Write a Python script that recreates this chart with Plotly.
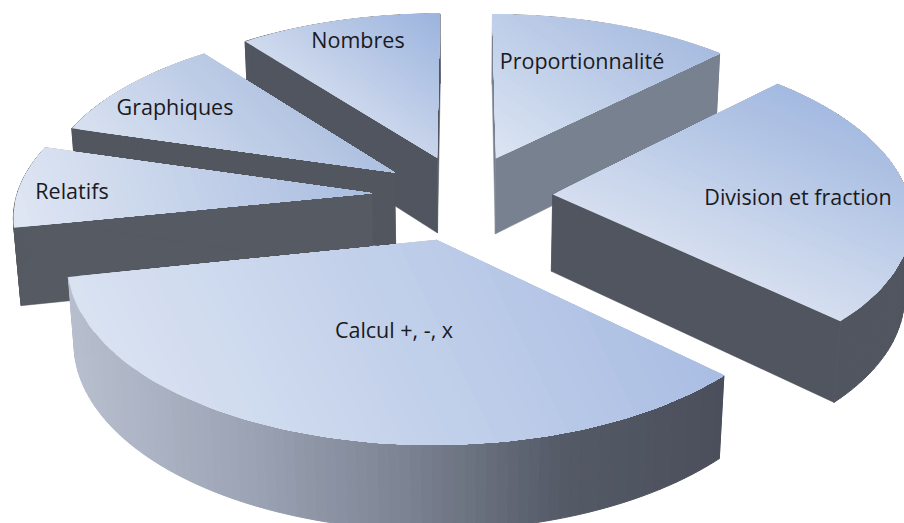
import math
import plotly.graph_objects as go

# --- chart data ---
labels = ["Proportionnalité", "Division et fraction", "Calcul +, -, x", "Relatifs", "Graphiques", "Nombres"]
values = [12.5, 24.6, 34.7, 7.7, 10.0, 10.5]
explode = [0.24, 0.25, 0.27, 0.26, 0.24, 0.24]

# --- styles ---
top_light = ["#dbe4f2", "#d4deef", "#d9e2f1", "#dfe6f3", "#d8e1f0", "#cfdaed"]
top_dark = ["#a6bbe0", "#a3b9e0", "#a9bde3", "#a9bde0", "#adc0e0", "#9bb3de"]
grad_dir = [(0.55, -0.83), (0.4, -0.92), (0.9, -0.44), (0.95, -0.3), (0.7, -0.7), (0.6, -0.8)]
side_col = ["#78818f", "#50555f", "#4a4f5b", "#565a63", "#52565f", "#50555f"]
label_x = [582, 798, 394, 72, 175, 358]
label_y = [64, 200, 333, 194, 110, 43]
draw_order = [0, 5, 4, 3, 1, 2]
calcul_idx = 2
wall_stops = [(70, (184, 192, 208)), (250, (155, 163, 180)), (400, (125, 132, 148)),
              (560, (84, 90, 102)), (725, (74, 79, 91))]

CX, CY, A, B, T, K, M = 464.0, 195.0, 355.0, 169.0, 78.0, 0.118, 0.016


def project(u, v, t=0.0):
    d = 1 + K * v + M * t
    return (CX + A * u / d, CY + (-B * v + T * t) / d)


def hexrgb(h):
    return tuple(int(h[i:i + 2], 16) for i in (1, 3, 5))


def mix(c1, c2, f):
    return "rgb(%d,%d,%d)" % tuple(round(a + (b - a) * f) for a, b in zip(c1, c2))


def clip(poly, nx, ny, lim):
    out = []
    for i, p in enumerate(poly):
        q = poly[(i + 1) % len(poly)]
        dp = p[0] * nx + p[1] * ny - lim
        dq = q[0] * nx + q[1] * ny - lim
        if dp >= 0:
            out.append(p)
        if (dp >= 0) != (dq >= 0):
            f = dp / (dp - dq)
            out.append((p[0] + (q[0] - p[0]) * f, p[1] + (q[1] - p[1]) * f))
    return out


fig = go.Figure()


def add_poly(pts, color, lw=0.0):
    xs = [p[0] for p in pts] + [pts[0][0]]
    ys = [p[1] for p in pts] + [pts[0][1]]
    fig.add_trace(go.Scatter(x=xs, y=ys, mode="lines", fill="toself", fillcolor=color,
                             line=dict(color=color, width=lw), hoverinfo="skip", showlegend=False))


def wall_color(x):
    for (x0, c0), (x1, c1) in zip(wall_stops, wall_stops[1:]):
        if x <= x1:
            return mix(c0, c1, max(0.0, (x - x0) / (x1 - x0)))
    return mix(wall_stops[-1][1], wall_stops[-1][1], 0)


total = sum(values)
spans = []
ang = 90.0
for val in values:
    spans.append((ang, ang - val / total * 360))
    ang = spans[-1][1]

for i in draw_order:
    a0, a1 = spans[i]
    mid = math.radians((a0 + a1) / 2)
    ox, oy = explode[i] * math.cos(mid), explode[i] * math.sin(mid)
    n = max(8, int(abs(a1 - a0) / 1.5))
    ths = [math.radians(a0 + (a1 - a0) * j / n) for j in range(n + 1)]
    rim = [(ox + math.cos(t), oy + math.sin(t)) for t in ths]

    def quad(p, q):
        return [project(p[0], p[1], 0), project(q[0], q[1], 0), project(q[0], q[1], 1), project(p[0], p[1], 1)]

    col = side_col[i]
    # radial walls
    add_poly(quad((ox, oy), rim[0]), col, 0.5)
    add_poly(quad((ox, oy), rim[-1]), col, 0.5)
    # outer wall strips
    for p, q in zip(rim, rim[1:]):
        pts = quad(p, q)
        c = wall_color(sum(x for x, _ in pts) / 4) if i == calcul_idx else col
        add_poly(pts, c, 1.0)
    # top face, painted as nested gradient clips
    top = [project(ox, oy)] + [project(u, v) for u, v in rim]
    nx, ny = grad_dir[i]
    proj = [x * nx + y * ny for x, y in top]
    lo, hi = min(proj), max(proj)
    c1, c2 = hexrgb(top_light[i]), hexrgb(top_dark[i])
    steps = 40
    add_poly(top, mix(c1, c2, 0))
    for s in range(1, steps):
        f = s / steps
        piece = clip(top, nx, ny, lo + (hi - lo) * f)
        if len(piece) >= 3:
            add_poly(piece, mix(c1, c2, f))

fig.add_trace(go.Scatter(x=label_x, y=label_y, mode="text", text=labels, textposition="middle center",
                         textfont=dict(family="Open Sans", size=21.5, color="#1a1a22"),
                         hoverinfo="skip", showlegend=False))

fig.update_layout(width=904, height=523, margin=dict(l=0, r=0, t=0, b=0),
                  paper_bgcolor="white", plot_bgcolor="white",
                  xaxis=dict(range=[0, 904], visible=False, fixedrange=True),
                  yaxis=dict(range=[523, 0], visible=False, fixedrange=True))
fig.write_html("out.html", config={"displayModeBar": False},
               default_width="904px", default_height="523px",
               post_script="document.body.style.margin='0';document.body.style.overflow='hidden';")
